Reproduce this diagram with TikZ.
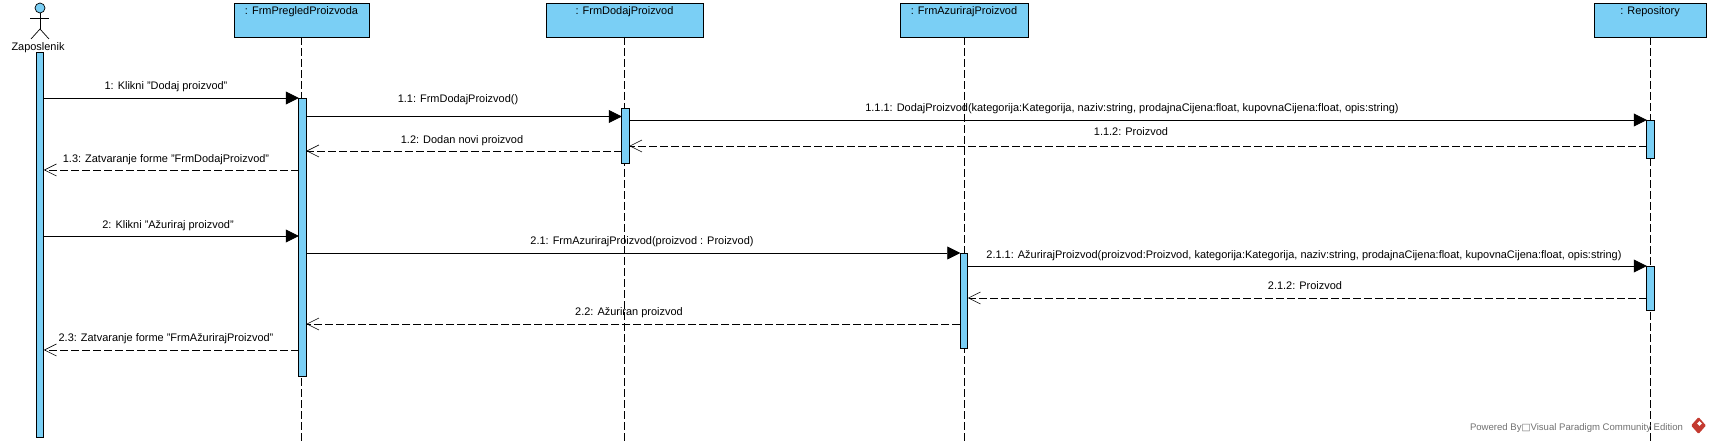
\documentclass[tikz,border=0pt]{standalone}
\usepackage{fontspec}
\setmainfont{Liberation Sans}
\newfontfamily\boxfont{DejaVu Sans}
\usetikzlibrary{arrows.meta, shapes.geometric}
\definecolor{vpBlue}{RGB}{122,207,245}
\definecolor{vpRed}{RGB}{196,58,48}
\definecolor{markGray}{RGB}{112,112,112}
\tikzset{
    headbox/.style={
        rectangle,
        draw=black,
        line width=0.9pt,
        fill=vpBlue,
        minimum height=34bp,
        text height=10pt,
        text depth=21pt,
        inner ysep=1.5pt,
        outer sep=0pt,
        font=\fontsize{11}{13}\selectfont
    },
    activebox/.style={
        rectangle,
        draw=black,
        line width=0.9pt,
        fill=vpBlue,
        minimum width=7.5bp,
        inner sep=0pt,
        outer sep=0pt
    },
    callarrow/.style={-{Triangle[length=13bp, width=13bp]}, line width=0.9pt, draw=black},
    returnarrow/.style={-{Straight Barb[length=12bp, width=12bp, line width=0.6pt]}, line width=0.8pt, draw=black, dash pattern=on 8bp off 3bp},
    lifeline/.style={draw=black, line width=0.8pt, dash pattern=on 8bp off 3bp},
    actorline/.style={draw=black, line width=0.7pt},
    msglabel/.style={inner sep=0pt, text height=8pt, text depth=2pt, yshift=-1.5bp, font=\fontsize{11}{13}\selectfont}
}

\begin{document}
\begin{tikzpicture}[x=1bp, y=-1bp]
        \useasboundingbox (0,0) rectangle (1710,442);

        % lifeline heads
        \node[headbox, minimum width=135bp] (pregled) at (301.5,20) {: FrmPregledProizvoda};
        \node[headbox, minimum width=157bp] (dodaj) at (624.5,20) {: FrmDodajProizvod};
        \node[headbox, minimum width=128bp] (azuriraj) at (964,20) {: FrmAzurirajProizvod};
        \node[headbox, minimum width=112bp] (repo) at (1650,20) {: Repository};

        % actor
        \node[circle, draw=black, line width=0.7pt, fill=vpBlue, minimum size=10bp, inner sep=0pt] (actorHead) at (40,8) {};
        \coordinate (actorHip) at (40,29);
        \coordinate (armL) at (30,18);
        \coordinate (armR) at (49,18);
        \coordinate (legL) at (31,39);
        \coordinate (legR) at (49,39);
        \draw[actorline] (actorHead) -- (actorHip);
        \draw[actorline] (armL) -- (armR);
        \draw[actorline] (legL) -- (actorHip) -- (legR);
        \node[msglabel] (zaposlenik) at (38,46) {Zaposlenik};

        % lifeline ends
        \coordinate (pregledEnd) at (301.5,442);
        \coordinate (dodajEnd) at (624.5,442);
        \coordinate (azurirajEnd) at (964,442);
        \coordinate (repoEnd) at (1650,442);
        \draw[lifeline] (pregled) -- (pregledEnd);
        \draw[lifeline] (dodaj) -- (dodajEnd);
        \draw[lifeline] (azuriraj) -- (azurirajEnd);
        \draw[lifeline] (repo) -- (repoEnd);

        % activation bars
        \node[activebox, minimum height=385bp] (actZap) at (40,244.5) {};
        \node[activebox, minimum height=277.5bp] (actPregled) at (302.5,237.2) {};
        \node[activebox, minimum height=55bp] (actDodaj) at (625.5,135.5) {};
        \node[activebox, minimum height=95bp] (actAzuriraj) at (964,300.5) {};
        \node[activebox, minimum height=38bp] (actRepoA) at (1650.5,139) {};
        \node[activebox, minimum height=44bp] (actRepoB) at (1650.5,288) {};

        % message heights
        \coordinate (m1) at (0,98);
        \coordinate (m11) at (0,116.5);
        \coordinate (m111) at (0,120);
        \coordinate (m112) at (0,146);
        \coordinate (m12) at (0,151);
        \coordinate (m13) at (0,170);
        \coordinate (m2) at (0,236);
        \coordinate (m21) at (0,253);
        \coordinate (m211) at (0,266);
        \coordinate (m212) at (0,298);
        \coordinate (m22) at (0,324);
        \coordinate (m23) at (0,350);

        \draw[callarrow] (actZap.east |- m1) -- (actPregled.west |- m1);
        \draw[callarrow] (actPregled.east |- m11) -- (actDodaj.west |- m11);
        \draw[callarrow] (actDodaj.east |- m111) -- (actRepoA.west |- m111);
        \draw[returnarrow] (actRepoA.west |- m112) -- (actDodaj.east |- m112);
        \draw[returnarrow] (actDodaj.west |- m12) -- (actPregled.east |- m12);
        \draw[returnarrow] (actPregled.west |- m13) -- (actZap.east |- m13);
        \draw[callarrow] (actZap.east |- m2) -- (actPregled.west |- m2);
        \draw[callarrow] (actPregled.east |- m21) -- (actAzuriraj.west |- m21);
        \draw[callarrow] (actAzuriraj.east |- m211) -- (actRepoB.west |- m211);
        \draw[returnarrow] (actRepoB.west |- m212) -- (actAzuriraj.east |- m212);
        \draw[returnarrow] (actAzuriraj.west |- m22) -- (actPregled.east |- m22);
        \draw[returnarrow] (actPregled.west |- m23) -- (actZap.east |- m23);

        % message labels
        \node[msglabel] (l1) at (166,85) {1: Klikni "Dodaj proizvod"};
        \node[msglabel] (l11) at (458,98) {1.1: FrmDodajProizvod()};
        \node[msglabel] (l111) at (1132,107) {1.1.1: DodajProizvod(kategorija:Kategorija, naziv:string, prodajnaCijena:float, kupovnaCijena:float, opis:string)};
        \node[msglabel] (l112) at (1131,131) {1.1.2: Proizvod};
        \node[msglabel] (l12) at (462,139) {1.2: Dodan novi proizvod};
        \node[msglabel] (l13) at (166,158) {1.3: Zatvaranje forme "FrmDodajProizvod"};
        \node[msglabel] (l2) at (168,224) {2: Klikni "Ažuriraj proizvod"};
        \node[msglabel] (l21) at (642,240) {2.1: FrmAzurirajProizvod(proizvod : Proizvod)};
        \node[msglabel] (l211) at (1304,254) {2.1.1: AžurirajProizvod(proizvod:Proizvod, kategorija:Kategorija, naziv:string, prodajnaCijena:float, kupovnaCijena:float, opis:string)};
        \node[msglabel] (l212) at (1305,285) {2.1.2: Proizvod};
        \node[msglabel] (l22) at (629,311) {2.2: Ažuriran proizvod};
        \node[msglabel] (l23) at (166,337) {2.3: Zatvaranje forme "FrmAžurirajProizvod"};

        % watermark
        \node[msglabel, text=markGray, font=\fontsize{9.6}{12}\selectfont] (powered) at (1576.5,426) {Powered By{\boxfont □}Visual Paradigm Community Edition};
        \node[diamond, fill=vpRed, rounded corners=1bp, minimum width=15bp, minimum height=17bp, inner sep=0pt] (vpLogo) at (1698.5,425.5) {};
        \node[diamond, fill=white, minimum size=5bp, inner sep=0pt] (vpMark) at (1699.5,423.5) {};
    \end{tikzpicture}
\end{document}
